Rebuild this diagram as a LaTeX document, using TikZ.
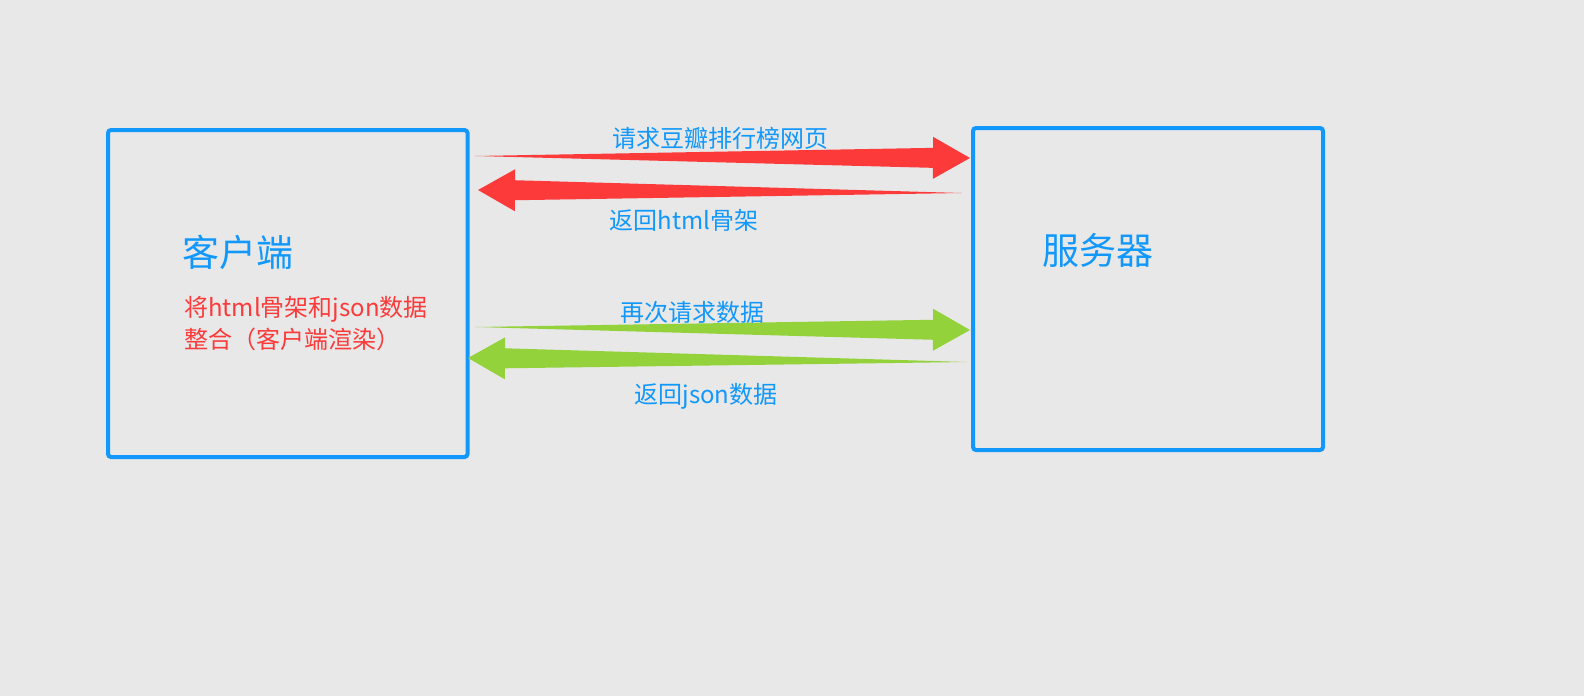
\documentclass[tikz,border=0pt]{standalone}
\usepackage{fontspec}
\setmainfont{Noto Sans CJK SC}
\usetikzlibrary{calc}
\definecolor{bg}{RGB}{232,232,232}
\definecolor{boxblue}{RGB}{18,152,250}
\definecolor{arrred}{RGB}{252,58,58}
\definecolor{arrgreen}{RGB}{148,210,60}
\newcommand\taperarrow[3]{%
  \fill[#3] (#1) -- ($(#2)!37pt!(#1)!10pt!90:(#2)$)
    -- ($($(#2)!37pt!(#1)$)!21pt!90:(#2)$) -- (#2)
    -- ($($(#2)!37pt!(#1)$)!21pt!-90:(#2)$)
    -- ($($(#2)!37pt!(#1)$)!10pt!-90:(#2)$) -- cycle;}
\begin{document}
\begin{tikzpicture}[x=1pt,y=-1pt,
  box/.style={draw=boxblue,line width=4pt,rounded corners=3pt},
  lbl/.style={text=boxblue,inner sep=0pt,font=\fontsize{24}{28}\selectfont},
  big/.style={text=boxblue,inner sep=0pt,font=\fontsize{37}{42}\selectfont}]
\fill[bg] (0,0) rectangle (1584,696);
\useasboundingbox (0,0) rectangle (1584,696);
\draw[box] (108,130) rectangle (467.5,457);
\draw[box] (973,128) rectangle (1323,450);
\node[big,anchor=west] (client) at (182,252) {客户端};
\node[big,anchor=west] (server) at (1042,250) {服务器};
\node[inner sep=0pt,anchor=west,align=left,text=arrred,font=\fontsize{24}{32}\selectfont] (merge) at (184,324) {将html骨架和json数据\\整合（客户端渲染）};
\coordinate (r1t) at (475,156);
\coordinate (r1h) at (970,158);
\coordinate (r2t) at (962,193);
\coordinate (r2h) at (478,190);
\coordinate (g1t) at (475,327);
\coordinate (g1h) at (970,330);
\coordinate (g2t) at (967,362);
\coordinate (g2h) at (468,358);
\taperarrow{r1t}{r1h}{arrred}
\taperarrow{r2t}{r2h}{arrred}
\taperarrow{g1t}{g1h}{arrgreen}
\taperarrow{g2t}{g2h}{arrgreen}
\node[lbl] (l1) at (720,138) {请求豆瓣排行榜网页};
\node[lbl] (l2) at (684,220) {返回html骨架};
\node[lbl] (l3) at (692,312) {再次请求数据};
\node[lbl] (l4) at (706,396) {返回json数据};
\end{tikzpicture}
\end{document}
